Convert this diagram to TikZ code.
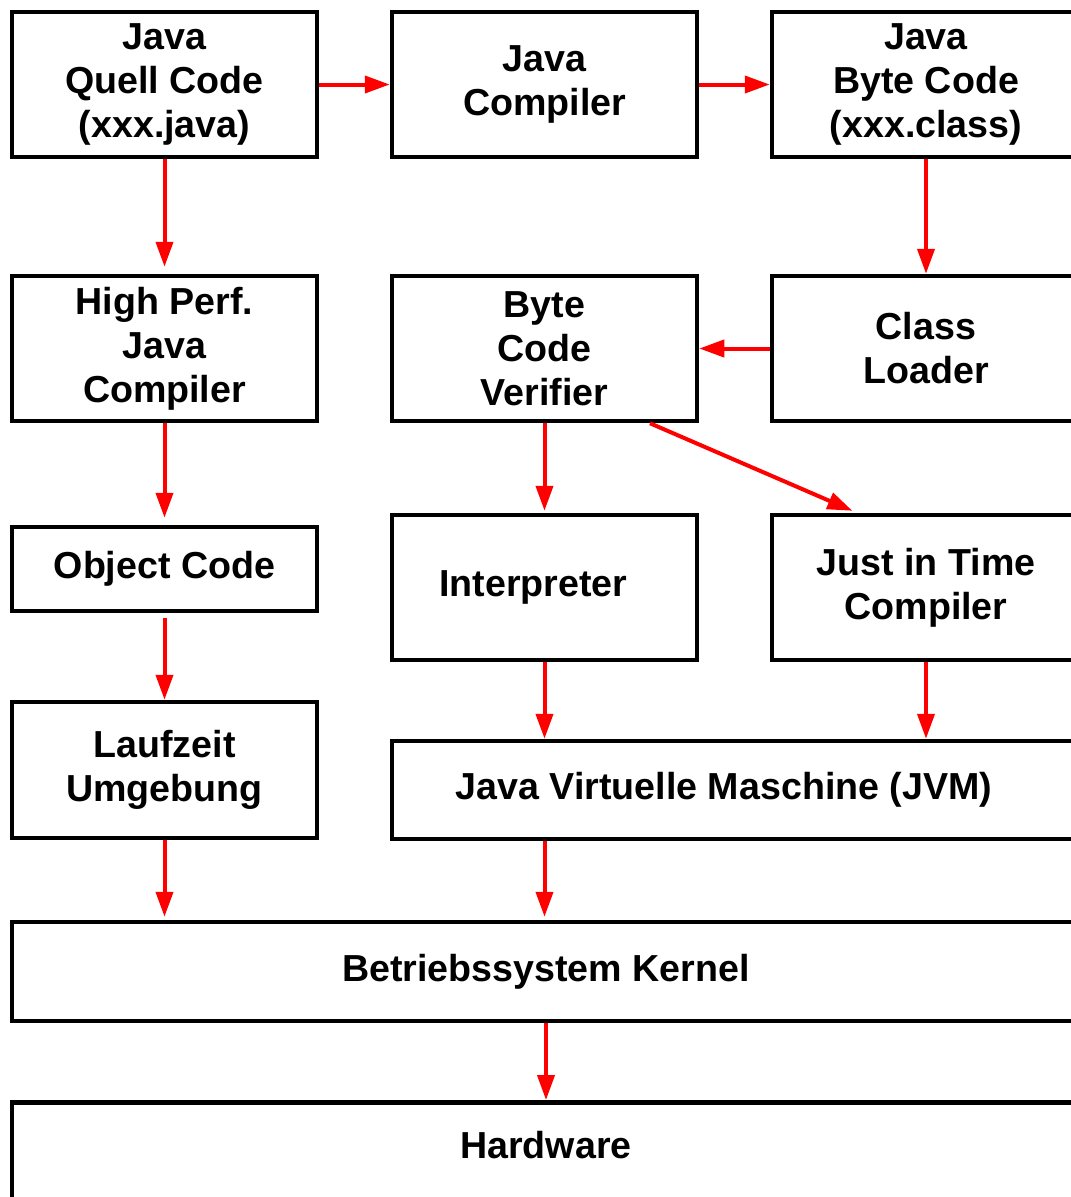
\documentclass[tikz,border=0pt]{standalone}
\usepackage{fontspec}
\setmainfont{Liberation Sans}
\usepackage{tikz}
\usetikzlibrary{arrows.meta}

\tikzset{
    box/.style = {draw = black, line width = 0.045cm, align = center,
        font = \fontsize{10.7}{12.5}\selectfont\bfseries,
        minimum width = 3.05cm, minimum height = 1.45cm, inner sep = 0pt},
    arr/.style = {draw = red, line width = 0.04cm,
        -{Triangle[length = 0.25cm, width = 0.17cm]}}
}

\begin{document}
\begin{tikzpicture}
    \clip (0,0) rectangle (10.71,-11.97);
    % top row
    \node (quell)[box] at (1.645,-0.845) {Java\\Quell Code\\(xxx.java)};
    \node (javacomp)[box] at (5.445,-0.845) {Java\\Compiler};
    \node (bytecode)[box, minimum width = 3.08cm] at (9.26,-0.845) {Java\\Byte Code\\(xxx.class)};
    % second row
    \node (highperf)[box] at (1.645,-3.485) {High Perf.\\Java\\Compiler};
    \node (verifier)[box] at (5.445,-3.485) {Byte\\Code\\Verifier};
    \node (loader)[box, minimum width = 3.08cm] at (9.26,-3.485) {Class\\Loader};
    % third row
    \node (objcode)[box, minimum height = 0.84cm] at (1.645,-5.69) {Object Code};
    \node (interp)[box] at (5.445,-5.875) {\hspace*{-0.22cm}Interpreter};
    \node (jit)[box, minimum width = 3.08cm] at (9.26,-5.875) {Just in Time\\Compiler};
    % fourth row
    \node (laufzeit)[box, minimum height = 1.36cm] at (1.645,-7.70) {Laufzeit\\Umgebung};
    \node (jvm)[box, minimum width = 6.88cm, minimum height = 0.98cm] at (7.36,-7.90) {\hspace*{-0.24cm}Java Virtuelle Maschine (JVM)};
    % bottom
    \node (kernel)[box, minimum width = 10.68cm, minimum height = 0.99cm] at (5.46,-9.715) {Betriebssystem Kernel};
    \node (hardware)[box, minimum width = 10.68cm, minimum height = 0pt, anchor = north,
        text height = 0.56cm, text depth = 1cm] at (5.46,-11.00) {Hardware};

    \path (quell) edge[arr] (javacomp);
    \path (javacomp) edge[arr] (bytecode);
    \path (quell) edge[arr, shorten >= 0.07cm] (highperf);
    \path (bytecode) edge[arr] (loader);
    \path (loader) edge[arr] (verifier);
    \path (highperf) edge[arr, shorten >= 0.07cm] (objcode);
    \path (verifier) edge[arr, shorten >= 0.02cm] (interp);
    \path ([xshift = 1.055cm]verifier.south) edge[arr, shorten >= 0.05cm] ([xshift = -0.69cm]jit.north);
    \path (objcode) edge[arr, shorten <= 0.05cm] (laufzeit);
    \path (interp) edge[arr] (interp |- jvm.north);
    \path (jit) edge[arr] (jit |- jvm.north);
    \path (laufzeit) edge[arr, shorten >= 0.03cm] (laufzeit |- kernel.north);
    \path (jvm.south -| interp) edge[arr, shorten >= 0.03cm] (kernel.north -| interp);
    \path (kernel) edge[arr] (hardware);
\end{tikzpicture}
\end{document}
